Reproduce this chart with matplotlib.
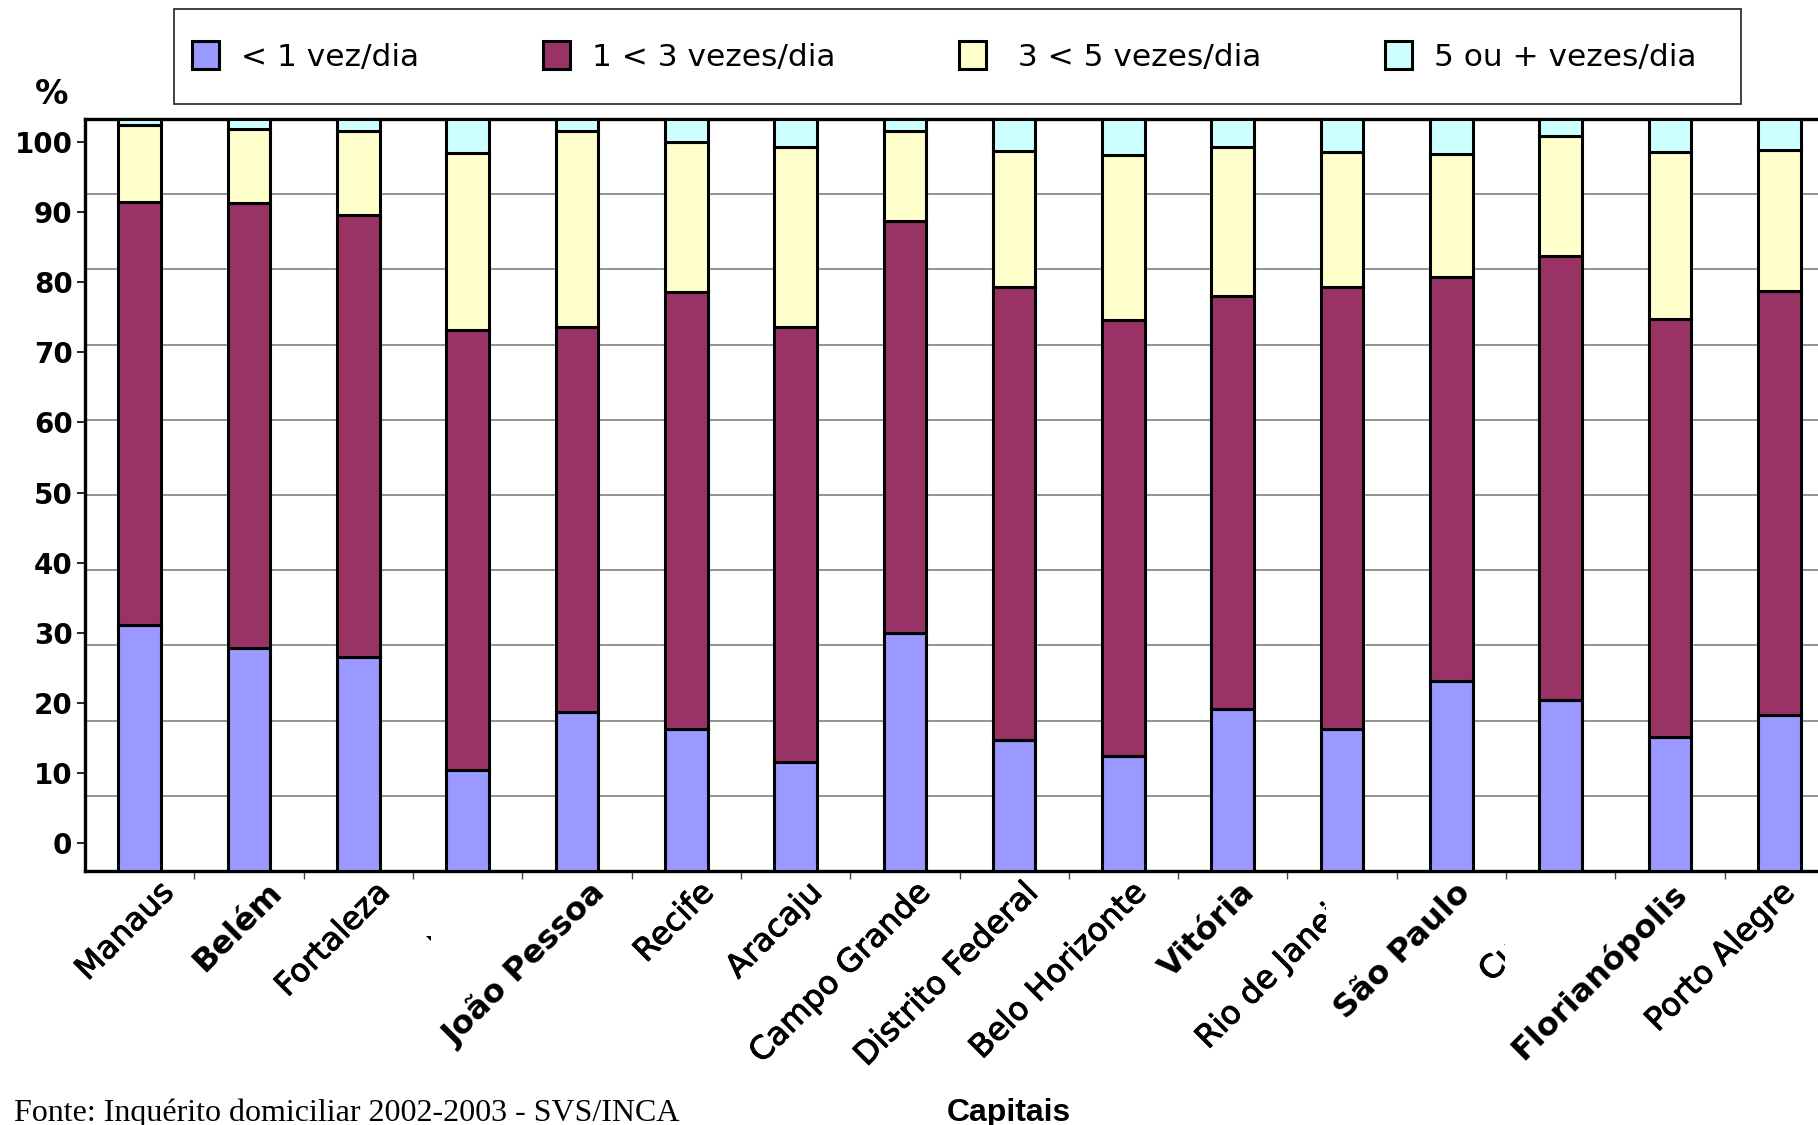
import matplotlib
matplotlib.use("Agg")
import matplotlib.pyplot as plt
import matplotlib.patheffects as pe
from matplotlib.patches import Rectangle
from matplotlib.ticker import FixedLocator
import numpy as np

# ---- data -----------------------------------------------------------------
capitais = ["Manaus", "Belém", "Fortaleza", "Natal", "João Pessoa", "Recife",
            "Aracaju", "Campo Grande", "Distrito Federal", "Belo Horizonte",
            "Vitória", "Rio de Janeiro", "São Paulo", "Curitiba",
            "Florianópolis", "Porto Alegre"]

menos_de_1 = [32.7, 29.6, 28.4, 13.4, 21.2, 18.9, 14.5, 31.6,
              17.4, 15.3, 21.6, 18.9, 25.2, 22.8, 17.8, 20.7]
de_1_a_3 = [56.2, 59.2, 58.8, 58.5, 51.1, 58.1, 57.8, 54.8,
            60.3, 58.0, 54.9, 58.7, 53.8, 59.0, 55.6, 56.4]
de_3_a_5 = [10.3, 9.9, 11.2, 23.6, 26.1, 20.0, 24.0, 12.0,
            18.0, 21.9, 19.8, 18.0, 16.4, 15.9, 22.2, 18.8]
cinco_ou_mais = [0.8, 1.3, 1.6, 4.5, 1.6, 3.0, 3.7, 1.6,
                 4.3, 4.8, 3.7, 4.4, 4.6, 2.3, 4.4, 4.1]

series_labels = ["< 1 vez/dia", "1 < 3 vezes/dia", " 3 < 5 vezes/dia",
                 "5 ou + vezes/dia"]
series_colors = ["#9999ff", "#993366", "#ffffcc", "#ccffff"]

ytick_labels = ["0", "10", "20", "30", "40", "50", "60", "70", "80", "90", "100"]

# names rendered in the heavier face
bold_names = {"Belém", "João Pessoa", "Vitória", "São Paulo", "Florianópolis"}
# names whose label is cut off on the right (figure x in pixels)
label_clip_px = {"Natal": 431, "Rio de Janeiro": 1326, "Curitiba": 1505}

# ---- figure ---------------------------------------------------------------
W, H = 1818, 1125
fig = plt.figure(figsize=(W / 100, H / 100), dpi=100)
plt.rcParams["font.family"] = ["DejaVu Sans"]

ax_l, ax_r, ax_t, ax_b = 85, 1834, 119, 871
ax = fig.add_axes([ax_l / W, 1 - ax_b / H, (ax_r - ax_l) / W, (ax_b - ax_t) / H])

x = np.arange(len(capitais))
bottom = np.zeros(len(capitais))
handles = []
for vals, col, lab in zip([menos_de_1, de_1_a_3, de_3_a_5, cinco_ou_mais],
                          series_colors, series_labels):
    bars = ax.bar(x, vals, 0.39, bottom=bottom, color=col, edgecolor="black",
                  linewidth=2.2, label=lab, zorder=3)
    handles.append(bars)
    bottom += np.array(vals)

ax.set_xlim(-0.5, len(capitais) - 0.5)
ax.set_ylim(0, 100)

for s in ax.spines.values():
    s.set_linewidth(2.4)
    s.set_color("black")

# horizontal grid every 10 %
ax.yaxis.set_minor_locator(FixedLocator(np.arange(10, 100, 10)))
ax.grid(axis="y", which="minor", color="#8a8a8a", linewidth=1.3, zorder=0)
ax.tick_params(axis="y", which="minor", length=0)

# y tick labels
ytick_pos = np.linspace(3.72, 96.94, len(ytick_labels))
ax.set_yticks(ytick_pos)
ax.set_yticklabels(ytick_labels, fontsize=20, fontweight="bold")
ax.tick_params(axis="y", which="major", length=6, width=1.2, pad=3,
               direction="out", color="black")

# x ticks between categories
ax.set_xticks([])
ax.xaxis.set_minor_locator(FixedLocator(x[:-1] + 0.5))
ax.tick_params(axis="x", which="minor", length=6, width=1.0, color="#444444",
               direction="out")

# rotated category labels (their anchors drift slightly left of the bars)
label_x = 0.37 + 0.9887 * x
for i, name in enumerate(capitais):
    is_bold = name in bold_names
    t = ax.text(label_x[i], -0.008, name, transform=ax.get_xaxis_transform(),
                rotation=45, ha="right", va="top", fontsize=23,
                fontweight="bold" if is_bold else "normal",
                clip_on=name in label_clip_px)
    if not is_bold:
        t.set_path_effects([pe.withStroke(linewidth=0.7, foreground="black")])
    if name in label_clip_px:
        cx = label_clip_px[name]
        if name == "Natal":
            clip = Rectangle((424 / W, 1 - 946 / H), 7 / W, 10 / H,
                             transform=fig.transFigure)
        else:
            clip = Rectangle((0, 0), cx / W, 1, transform=fig.transFigure)
        t.set_clip_path(clip)

ax.text(-0.019, 1.033, "%", transform=ax.transAxes, fontsize=24,
        fontweight="bold", ha="center", va="center")

fig.text(1009 / W, 1 - 1121 / H, "Capitais", ha="center", va="baseline",
         fontsize=23, fontweight="bold", family="Liberation Sans")
fig.text(14 / W, 1 - 1121 / H, "Fonte: Inquérito domiciliar 2002-2003 - SVS/INCA",
         ha="left", va="baseline", fontsize=23, family="Liberation Serif")

# legend box and entries
fig.add_artist(Rectangle((174 / W, 1 - 104 / H), (1741 - 174) / W, 95 / H,
                         transform=fig.transFigure, fill=False,
                         edgecolor="#333333", linewidth=1.3))
leg = fig.legend(handles=handles, labels=series_labels, ncol=4,
                 loc="center left", bbox_to_anchor=(174 / W, 1 - 56.5 / H),
                 fontsize=22.5, frameon=False,
                 handlelength=0.87, handleheight=0.96, handletextpad=0.7,
                 columnspacing=3.95, borderpad=0.58, borderaxespad=0)

fig.savefig("out.png", dpi=100, facecolor="white")
